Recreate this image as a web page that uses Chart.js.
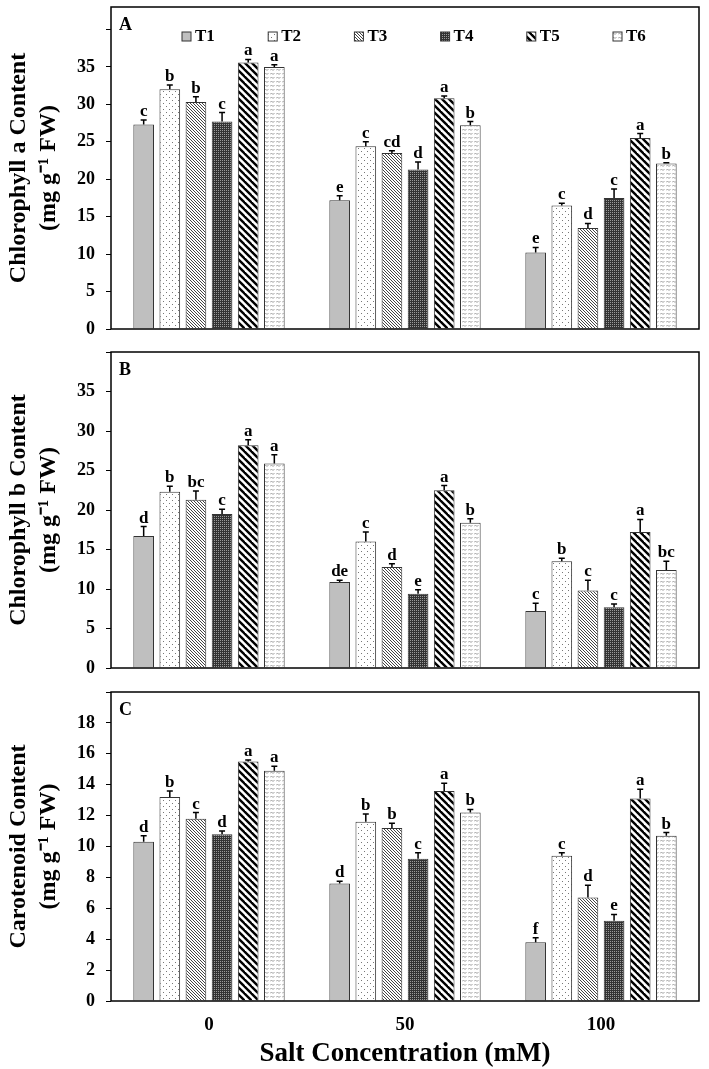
<!DOCTYPE html>
<html>
<head>
<meta charset="utf-8">
<script src="https://cdn.jsdelivr.net/npm/chart.js@4.4.0/dist/chart.umd.min.js"></script>
<style>
body { margin: 0; background: #fff; }
.panel { position: absolute; left: 0; width: 709px; }
</style>
</head>
<body>
<div class="panel" style="top:0;height:340px"><canvas id="chartA"></canvas></div>
<div class="panel" style="top:340px;height:339px"><canvas id="chartB"></canvas></div>
<div class="panel" style="top:679px;height:390px"><canvas id="chartC"></canvas></div>
<script>
// Concentrations en sel (axe X) et traitements
const categories = ['0', '50', '100'];
const traitements = ['T1', 'T2', 'T3', 'T4', 'T5', 'T6'];

// Chlorophylle a : une ligne par traitement, valeurs pour 0 / 50 / 100 mM
const chlaValeurs = [[27.3, 17.2, 10.2], [32.0, 24.4, 16.5], [30.3, 23.5, 13.5], [27.7, 21.3, 17.5], [35.6, 30.8, 25.5], [35.0, 27.2, 22.1]];
const chlaErreurs = [[0.6, 0.6, 0.7], [0.6, 0.6, 0.3], [0.7, 0.3, 0.6], [1.2, 1.0, 1.2], [0.4, 0.3, 0.6], [0.3, 0.5, 0.1]];
const chlaLettres = [['c', 'e', 'e'], ['b', 'c', 'c'], ['b', 'cd', 'd'], ['c', 'd', 'c'], ['a', 'a', 'a'], ['a', 'b', 'b']];

// Chlorophylle b
const chlbValeurs = [[16.7, 10.9, 7.2], [22.3, 16.0, 13.5], [21.3, 12.8, 9.8], [19.5, 9.4, 7.7], [28.2, 22.5, 17.2], [25.9, 18.4, 12.4]];
const chlbErreurs = [[1.2, 0.2, 1.0], [0.7, 1.2, 0.4], [1.1, 0.4, 1.3], [0.6, 0.5, 0.4], [0.7, 0.6, 1.6], [1.1, 0.5, 1.1]];
const chlbLettres = [['d', 'de', 'c'], ['b', 'c', 'b'], ['bc', 'd', 'c'], ['c', 'e', 'c'], ['a', 'a', 'a'], ['a', 'b', 'bc']];

// Caroténoïdes
const caroValeurs = [[10.3, 7.6, 3.8], [13.2, 11.6, 9.4], [11.8, 11.2, 6.7], [10.8, 9.2, 5.2], [15.5, 13.6, 13.1], [14.9, 12.2, 10.7]];
const caroErreurs = [[0.4, 0.15, 0.3], [0.4, 0.5, 0.2], [0.4, 0.3, 0.8], [0.2, 0.4, 0.4], [0.1, 0.5, 0.6], [0.3, 0.2, 0.2]];
const caroLettres = [['d', 'd', 'f'], ['b', 'b', 'c'], ['c', 'b', 'd'], ['d', 'c', 'e'], ['a', 'a', 'a'], ['a', 'b', 'b']];

const police = "'Liberation Serif', 'Times New Roman', serif";
Chart.defaults.font.family = police;
Chart.defaults.color = '#000';

// Fabrique un motif de remplissage a partir d'un petit canvas
function motif(w, h, dessin) {
    const c = document.createElement('canvas');
    c.width = w; c.height = h;
    const g = c.getContext('2d');
    g.fillStyle = '#fff';
    g.fillRect(0, 0, w, h);
    dessin(g);
    return g.createPattern(c, 'repeat');
}

const remplissages = [
    '#bfbfbf',
    motif(6, 6, g => { g.fillStyle = '#777'; g.fillRect(1, 1, 1, 1); g.fillRect(4, 4, 1, 1); }),
    motif(3, 3, g => { g.fillStyle = '#444'; for (let k = 0; k < 3; k++) g.fillRect(k, k, 1, 1); }),
    motif(4, 4, g => { g.fillStyle = '#333'; g.fillRect(0, 0, 4, 4); g.fillStyle = '#9a9a9a'; g.fillRect(0, 0, 1, 1); g.fillRect(2, 2, 1, 1); g.fillRect(0, 2, 1, 1); g.fillRect(2, 0, 1, 1); }),
    motif(7, 7, g => {
        g.strokeStyle = '#000'; g.lineWidth = 2.4;
        for (const o of [-7, 0, 7]) { g.beginPath(); g.moveTo(o - 1, -1); g.lineTo(o + 8, 8); g.stroke(); }
    }),
    motif(6, 4, g => {
        g.strokeStyle = '#888'; g.lineWidth = 0.8;
        g.beginPath(); g.moveTo(0, 2.5); g.lineTo(1.5, 1); g.lineTo(3, 2.5); g.lineTo(4.5, 1); g.stroke();
    })
];

// Cadre, lettre du panneau et legende
const cadrePlugin = {
    id: 'cadre',
    afterDraw(chart, args, opts) {
        const ctx = chart.ctx;
        const a = chart.chartArea;
        ctx.save();
        ctx.strokeStyle = '#000';
        ctx.lineWidth = 1.5;
        ctx.strokeRect(a.left, a.top, a.right - a.left, a.bottom - a.top);
        ctx.fillStyle = '#000';
        ctx.font = 'bold 18px ' + police;
        ctx.textBaseline = 'middle';
        ctx.fillText(opts.lettre, a.left + 8, a.top + 18);
        if (opts.legende) {
            ctx.font = 'bold 17px ' + police;
            traitements.forEach((t, i) => {
                const x = a.left + 71 + i * 86.2;
                const y = a.top + 25;
                ctx.fillStyle = remplissages[i];
                ctx.fillRect(x, y, 9, 9);
                ctx.lineWidth = 1;
                ctx.strokeStyle = '#333';
                ctx.strokeRect(x, y, 9, 9);
                ctx.fillStyle = '#000';
                ctx.fillText(t, x + 13, y + 5);
            });
        }
        ctx.restore();
    }
};

// Barres d'erreur (vers le haut) et lettres de significativite
const erreurPlugin = {
    id: 'erreurs',
    afterDatasetsDraw(chart) {
        const ctx = chart.ctx;
        const y = chart.scales.y;
        chart.data.datasets.forEach((ds, i) => {
            const meta = chart.getDatasetMeta(i);
            meta.data.forEach((bar, j) => {
                const haut = y.getPixelForValue(ds.data[j] + ds.erreurs[j]);
                ctx.save();
                ctx.strokeStyle = '#000';
                ctx.lineWidth = 1.5;
                ctx.beginPath();
                ctx.moveTo(bar.x, bar.y);
                ctx.lineTo(bar.x, haut);
                ctx.moveTo(bar.x - 3, haut);
                ctx.lineTo(bar.x + 3, haut);
                ctx.stroke();
                ctx.fillStyle = '#000';
                ctx.font = 'bold 17px ' + police;
                ctx.textAlign = 'center';
                ctx.fillText(ds.lettres[j], bar.x, haut - 4);
                ctx.restore();
            });
        });
    }
};

function tracerPanneau(canvasId, valeurs, erreurs, lettres, cfg) {
    const ctx = document.getElementById(canvasId);
    new Chart(ctx, {
        type: 'bar',
        data: {
            labels: categories,
            datasets: traitements.map((t, i) => ({
                label: t,
                data: valeurs[i],
                erreurs: erreurs[i],
                lettres: lettres[i],
                backgroundColor: remplissages[i],
                borderColor: '#333',
                borderWidth: 1,
                categoryPercentage: 0.8,
                barPercentage: 0.79
            }))
        },
        options: {
            responsive: true,
            maintainAspectRatio: false,
            animation: false,
            layout: { padding: { top: cfg.haut, right: 10, bottom: cfg.bas, left: 0 } },
            plugins: {
                legend: { display: false },
                tooltip: { enabled: false },
                cadre: { lettre: cfg.lettre, legende: cfg.legende }
            },
            scales: {
                x: {
                    grid: { display: false },
                    border: { display: false },
                    ticks: { display: cfg.axeX, padding: 5, font: { size: 19, weight: 'bold' }, color: '#000' },
                    title: {
                        display: cfg.axeX,
                        text: 'Salt Concentration (mM)',
                        font: { size: 27, weight: 'bold', lineHeight: 1.0 },
                        color: '#000',
                        padding: { top: 0, bottom: 1 }
                    },
                    afterFit: s => {
                        s.height = cfg.hauteurX;
                        s.paddingLeft = 0; s.paddingRight = 0;
                    }
                },
                y: {
                    min: 0,
                    max: cfg.max,
                    ticks: {
                        stepSize: cfg.pas,
                        padding: 11,
                        font: { size: 18, weight: 'bold' },
                        color: '#000',
                        callback: v => (v >= cfg.cache ? '' : v)
                    },
                    grid: { drawOnChartArea: false, tickLength: 5, color: '#000', lineWidth: 1 },
                    border: { display: false },
                    title: {
                        display: true,
                        text: [cfg.titre, '(mg g\u207B\u00B9 FW)'],
                        font: { size: 24, weight: 'bold', lineHeight: 1.25 },
                        color: '#000',
                        padding: { top: 4, bottom: 0 }
                    },
                    afterBuildTicks: s => { s.ticks = s.ticks.filter(t => t.value % cfg.pas === 0); },
                    afterFit: s => {
                        s.width = 111;
                        s.paddingTop = 0; s.paddingBottom = 0;
                    }
                }
            }
        },
        plugins: [cadrePlugin, erreurPlugin]
    });
}

tracerPanneau('chartA', chlaValeurs, chlaErreurs, chlaLettres,
    { haut: 7, bas: 11, hauteurX: 0, axeX: false, max: 43, pas: 5, cache: 40, titre: 'Chlorophyll a Content', lettre: 'A', legende: true });
tracerPanneau('chartB', chlbValeurs, chlbErreurs, chlbLettres,
    { haut: 12, bas: 11, hauteurX: 0, axeX: false, max: 40, pas: 5, cache: 40, titre: 'Chlorophyll b Content', lettre: 'B', legende: false });
tracerPanneau('chartC', caroValeurs, caroErreurs, caroLettres,
    { haut: 13, bas: 0, hauteurX: 68, axeX: true, max: 20, pas: 2, cache: 20, titre: 'Carotenoid Content', lettre: 'C', legende: false });
</script>
</body>
</html>
